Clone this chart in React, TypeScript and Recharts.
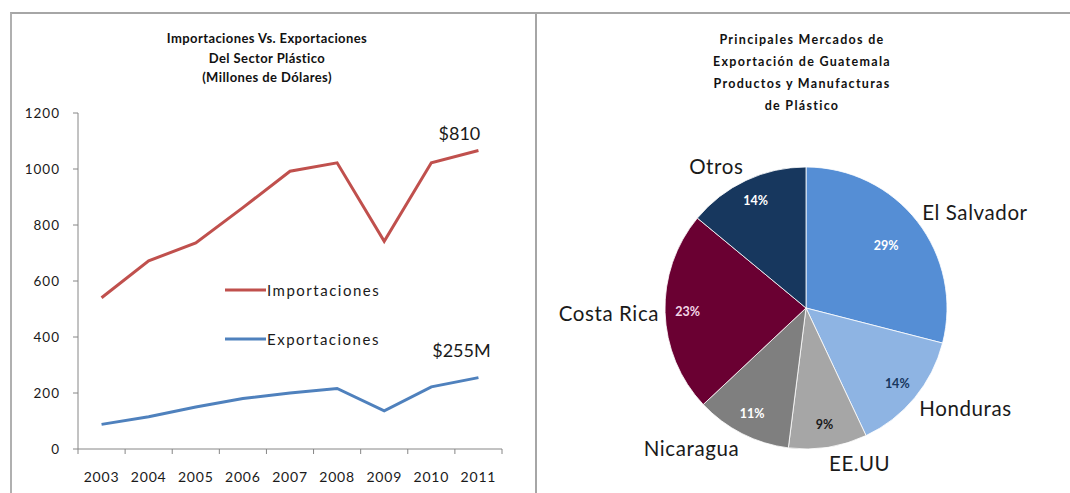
import React from 'react';
import { LineChart, Line, XAxis, YAxis, LabelList, PieChart, Pie, Cell } from 'recharts';

const years = ['2003', '2004', '2005', '2006', '2007', '2008', '2009', '2010', '2011'];
const importaciones = [540, 672, 736, 862, 992, 1022, 742, 1022, 1066];
const exportaciones = [88, 115, 150, 180, 200, 216, 136, 222, 255];
const yTicks = [0, 200, 400, 600, 800, 1000, 1200];
const seriesNames = ['Importaciones', 'Exportaciones'];
const endLabels = ['$810', '$255M'];

const mercados = ['El Salvador', 'Honduras', 'EE.UU', 'Nicaragua', 'Costa Rica', 'Otros'];
const participacion = [29, 14, 9, 11, 23, 14];
const pieColors = ['#558ED5', '#8EB4E3', '#A6A6A6', '#7F7F7F', '#6A0032', '#17375E'];
const pctColors = ['#ffffff', '#17375E', '#1a1a1a', '#ffffff', '#f3d6e6', '#ffffff'];

const lineData = years.map((y, i) => ({ year: y, imp: importaciones[i], exp: exportaciones[i] }));
const pieData = mercados.map((m, i) => ({ name: m, value: participacion[i] }));

const FONT = 'Lato, "Open Sans", sans-serif';
const RED = '#C0504D';
const BLUE = '#4F81BD';
const lineColors = [RED, BLUE];

const XTick = (props: any) => {
  const { x, y, payload, index } = props;
  const off = payload.offset || 0;
  return (
    <g>
      <line x1={x - off} y1={y} x2={x - off} y2={y + 5} stroke="#868686" />
      {index === years.length - 1 && (
        <line x1={x + off} y1={y} x2={x + off} y2={y + 5} stroke="#868686" />
      )}
      <text x={x} y={y + 33} textAnchor="middle" fontSize={14} letterSpacing={0.8} fill="#1a1a1a" fontFamily={FONT}>
        {payload.value}
      </text>
    </g>
  );
};

const EndLabel = (text: string, dx: number, dy: number) => (props: any) => {
  const { x, y, index } = props;
  if (index !== years.length - 1) return null;
  return (
    <text x={x + dx} y={y + dy} textAnchor="middle" fontSize={18} fill="#1a1a1a" fontFamily={FONT}>
      {text}
    </text>
  );
};

const RAD = Math.PI / 180;
const PieLabel = (props: any) => {
  const { cx, cy, midAngle, outerRadius, index, name, value } = props;
  const cos = Math.cos(-midAngle * RAD);
  const sin = Math.sin(-midAngle * RAD);
  const ri = outerRadius * (index === 0 ? 0.72 : 0.84);
  const ro = outerRadius + 6;
  const xi = cx + ri * cos;
  const yi = cy + ri * sin;
  const xo = cx + ro * cos;
  const yo = cy + ro * sin + sin * 10;
  return (
    <g>
      <text x={xi} y={yi} textAnchor="middle" dominantBaseline="central" fontSize={12.5} fontWeight="bold" fill={pctColors[index]} fontFamily={FONT}>
        {value}%
      </text>
      <text x={xo} y={yo} textAnchor={cos >= 0 ? 'start' : 'end'} dominantBaseline="central" fontSize={20.5} letterSpacing={0.6} fill="#1a1a1a" fontFamily={FONT}>
        {name}
      </text>
    </g>
  );
};

const titleStyle: React.CSSProperties = {
  position: 'absolute',
  textAlign: 'center',
  fontFamily: FONT,
  fontWeight: 'bold',
  color: '#111',
};

export default function App() {
  return (
    <div style={{ position: 'relative', width: 1070, height: 493, background: '#fff', overflow: 'hidden' }}>
      <style>{`body{margin:0;}`}</style>
      <div style={{ position: 'absolute', left: 10, top: 12, width: 1060, height: 490, borderTop: '2px solid #A6A6A6', borderLeft: '2px solid #B0B0B0' }} />
      <div style={{ position: 'absolute', left: 535, top: 12, width: 2, height: 481, background: '#A6A6A6' }} />

      <div style={{ ...titleStyle, left: 117, width: 300, top: 29, fontSize: 13, letterSpacing: 0.4, lineHeight: '19.5px' }}>
        Importaciones Vs. Exportaciones<br />Del Sector Plástico<br />(Millones de Dólares)
      </div>
      <div style={{ ...titleStyle, left: 652, width: 300, top: 29, fontSize: 12.5, lineHeight: '22px', letterSpacing: 1.3 }}>
        Principales Mercados de<br />Exportación de Guatemala<br />Productos y Manufacturas<br />de Plástico
      </div>

      <div style={{ position: 'absolute', left: 0, top: 0 }}>
        <LineChart width={535} height={493} data={lineData} margin={{ top: 113, right: 33, left: 18, bottom: 14 }}>
          <XAxis
            dataKey="year"
            scale="band"
            height={30}
            tickLine={false}
            tickSize={0}
            tickMargin={0}
            axisLine={{ stroke: '#868686' }}
            tick={<XTick />}
            interval={0}
          />
          <YAxis
            domain={[0, 1200]}
            ticks={yTicks}
            width={60}
            tickSize={5}
            tickMargin={13}
            axisLine={{ stroke: '#868686' }}
            tickLine={{ stroke: '#868686' }}
            tick={{ fontSize: 13.5, fill: '#1a1a1a', fontFamily: FONT, letterSpacing: 1 }}
          />
          <Line type="linear" dataKey="imp" name={seriesNames[0]} stroke={RED} strokeWidth={3} dot={false} isAnimationActive={false}>
            <LabelList dataKey="imp" content={EndLabel(endLabels[0], -19, -11)} />
          </Line>
          <Line type="linear" dataKey="exp" name={seriesNames[1]} stroke={BLUE} strokeWidth={3} dot={false} isAnimationActive={false}>
            <LabelList dataKey="exp" content={EndLabel(endLabels[1], -17, -21)} />
          </Line>
        </LineChart>
      </div>

      {seriesNames.map((n, i) => (
        <div key={n} style={{ position: 'absolute', left: 225, top: 280 + i * 49, height: 20, display: 'flex', alignItems: 'center' }}>
          <svg width={41} height={6} style={{ display: 'block' }}>
            <line x1={0} y1={3} x2={41} y2={3} stroke={lineColors[i]} strokeWidth={3} />
          </svg>
          <span style={{ fontFamily: FONT, fontSize: 15, letterSpacing: 1.5, color: '#1a1a1a', marginLeft: 1 }}>{n}</span>
        </div>
      ))}

      <div style={{ position: 'absolute', left: 535, top: 0 }}>
        <PieChart width={535} height={493} margin={{ top: 0, right: 0, bottom: 0, left: 0 }}>
          <Pie
            data={pieData}
            dataKey="value"
            nameKey="name"
            cx={271}
            cy={308}
            outerRadius={141}
            startAngle={90}
            endAngle={-270}
            stroke="#ffffff"
            strokeWidth={0.8}
            label={PieLabel}
            labelLine={false}
            isAnimationActive={false}
          >
            {pieData.map((d, i) => (
              <Cell key={d.name} fill={pieColors[i]} />
            ))}
          </Pie>
        </PieChart>
      </div>
    </div>
  );
}
